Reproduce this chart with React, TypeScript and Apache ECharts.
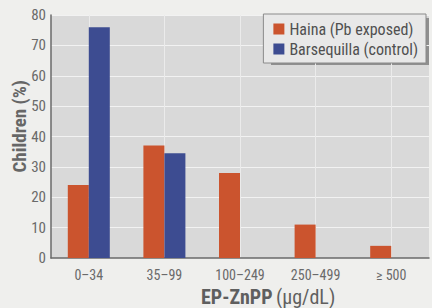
import React, { useEffect, useRef } from "react";
import * as echarts from "echarts";

const categories = ["0\u201334", "35\u201399", "100\u2013249", "250\u2013499", "\u2265 500"];
const hainaValues = [24, 37, 28, 11, 4];
const barsequillaValues = [76, 34.5, 0, 0, 0];
const seriesNames = ["Haina (Pb exposed)", "Barsequilla (control)"];
const yTicks = { min: 0, max: 80, interval: 10 };

const FONT = "'Liberation Sans Narrow', 'Roboto Condensed', Arial, sans-serif";

export default function App() {
  const ref = useRef<HTMLDivElement>(null);
  useEffect(() => {
    if (!ref.current) return;
    const chart = echarts.init(ref.current, undefined, { renderer: "svg" });
    chart.setOption({
      animation: false,
      backgroundColor: "#efefed",
      textStyle: { fontFamily: FONT },
      grid: {
        left: 51,
        right: 3,
        top: 15,
        bottom: 50,
        show: true,
        backgroundColor: "#d9d9d9",
        borderWidth: 0,
      },
      legend: {
        data: seriesNames,
        orient: "vertical",
        right: 6,
        top: 14,
        itemWidth: 11,
        itemHeight: 11,
        itemGap: 4,
        padding: [7, 8, 6, 10],
        backgroundColor: "#e8e8e8",
        borderColor: "#8a8a8a",
        borderWidth: 1,
        icon: "rect",
        textStyle: { fontFamily: FONT, fontSize: 16, color: "#505050" },
      },
      graphic: [
        {
          type: "rect",
          shape: { x: 271, y: 18, width: 158, height: 47 },
          style: { fill: "#8f8f8f" },
          z: 0,
        },
        {
          type: "text",
          left: 10,
          top: 80,
          rotation: Math.PI / 2,
          style: {
            text: "Children (%)",
            font: `bold 19px ${FONT}`,
            fill: "#666",
          },
        },
        {
          type: "text",
          left: 201,
          top: 287,
          style: {
            text: "{b|EP-ZnPP} {n|(\u03bcg/dL)}",
            rich: {
              b: { fontFamily: FONT, fontSize: 20, fontWeight: "bold", fill: "#5f5f5f" },
              n: { fontFamily: FONT, fontSize: 20, fill: "#5f5f5f" },
            },
          },
        },
      ],
      xAxis: {
        type: "category",
        data: categories,
        axisLine: { lineStyle: { color: "#6a6a6a", width: 1.5 } },
        axisTick: { show: false },
        axisLabel: { fontFamily: FONT, fontSize: 14, color: "#6a6a6a", margin: 10 },
        splitLine: { show: true, alignWithLabel: true, lineStyle: { color: "#ebebeb", width: 1 } },
      },
      yAxis: {
        type: "value",
        min: yTicks.min,
        max: yTicks.max,
        interval: yTicks.interval,
        axisLine: { show: true, lineStyle: { color: "#6a6a6a", width: 1.5 } },
        axisTick: { show: false },
        axisLabel: { fontFamily: FONT, fontSize: 15, color: "#6a6a6a", margin: 5 },
        splitLine: { lineStyle: { color: "#f2f2f2", width: 1 } },
      },
      series: [
        {
          name: seriesNames[0],
          type: "bar",
          data: hainaValues,
          barWidth: 21,
          barGap: "0%",
          itemStyle: { color: "#cb542e" },
        },
        {
          name: seriesNames[1],
          type: "bar",
          data: barsequillaValues,
          barWidth: 21,
          barGap: "0%",
          itemStyle: { color: "#3d4c91" },
        },
      ],
    });
    return () => chart.dispose();
  }, []);
  return <div ref={ref} style={{ width: 432, height: 308 }} />;
}

const _style = document.createElement("style");
_style.textContent = "body{margin:0}";
document.head.appendChild(_style);
